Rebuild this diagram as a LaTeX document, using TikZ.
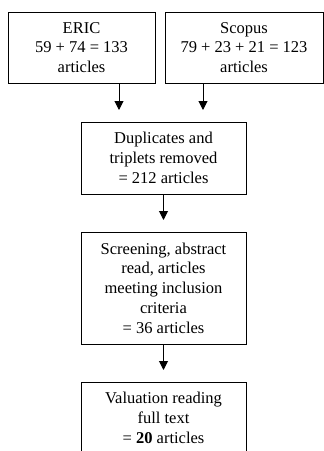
\documentclass[tikz,border=0pt]{standalone}
\usepackage{fontspec}
\setmainfont{Liberation Serif}
\usetikzlibrary{arrows.meta}
\begin{document}
\begin{tikzpicture}[
    x=1pt, y=-1pt,
    stage/.style={
        draw, rectangle, line width=1pt, inner sep=0pt,
        font=\fontsize{16.5}{19.8}\selectfont, align=center
    },
    flowarrow/.style={-{Triangle[width=9pt,length=9pt]}, line width=1pt}
]
    \useasboundingbox (0,0) rectangle (324,451);

    % Sources
    \node[stage, minimum width=147pt, minimum height=71pt] (eric) at (81.5,47.5)
        {ERIC\\59 + 74 = 133\\articles};
    \node[stage, minimum width=158pt, minimum height=71pt] (scopus) at (244,47.5)
        {Scopus\\79 + 23 + 21 = 123\\articles};

    % Selection steps
    \node[stage, minimum width=165pt, minimum height=72pt] (dup) at (163.5,158)
        {Duplicates and\\triplets removed\\= 212 articles};
    \node[stage, minimum width=165pt, minimum height=112pt] (screen) at (163.5,288)
        {Screening, abstract\\read, articles\\meeting inclusion\\criteria\\= 36 articles};
    \node[stage, minimum width=165pt, minimum height=72pt] (val) at (163.5,418)
        {Valuation reading\\full text\\= \textbf{20} articles};

    % Arrow tips (they stop short of the next box)
    \coordinate (ericend) at (119,110);
    \coordinate (scopusend) at (203,110);
    \coordinate (dupend) at (163.5,220);
    \coordinate (screenend) at (163.5,370);

    \draw[flowarrow] (eric.south -| ericend) -- (ericend);
    \draw[flowarrow] (scopus.south -| scopusend) -- (scopusend);
    \draw[flowarrow] (dup.south) -- (dupend);
    \draw[flowarrow] (screen.south) -- (screenend);

\end{tikzpicture}
\end{document}
